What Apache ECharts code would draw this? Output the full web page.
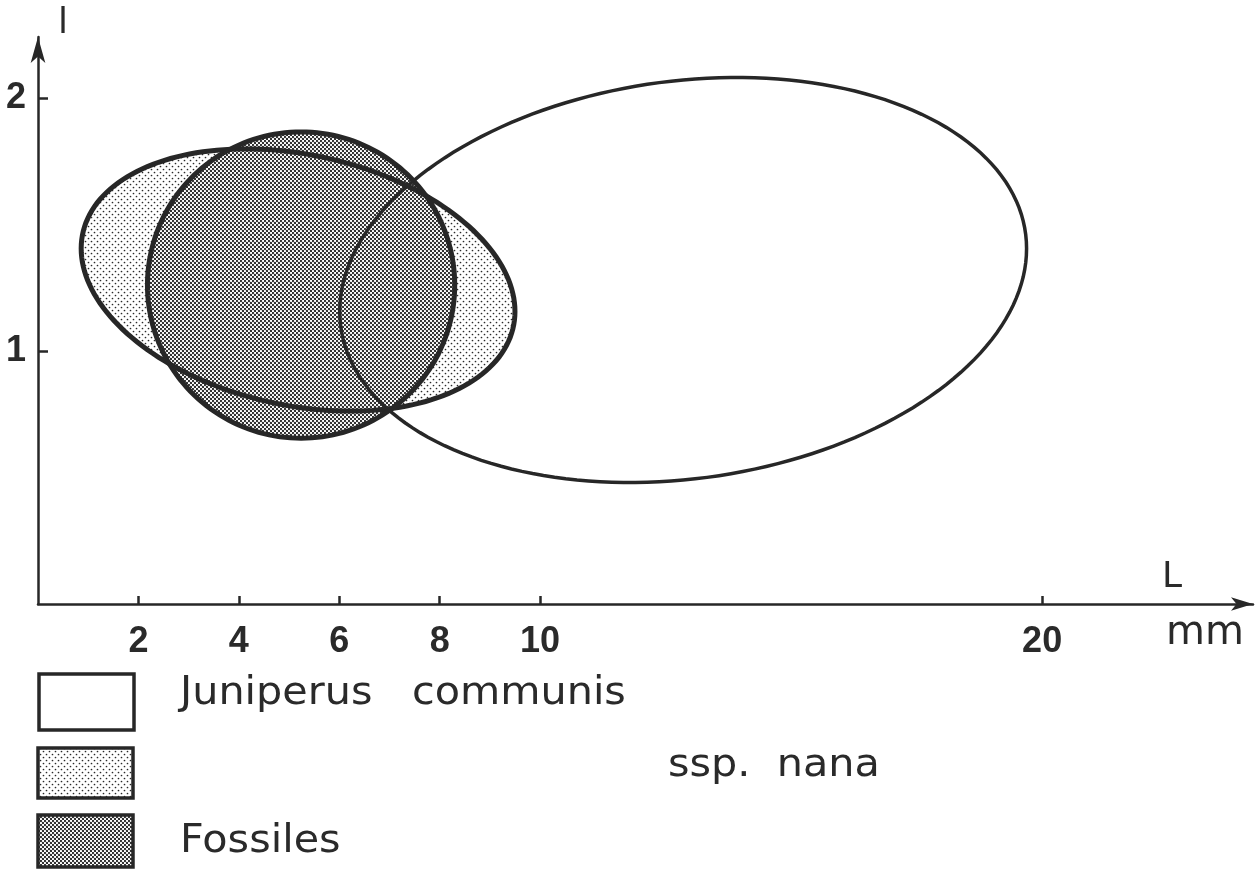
<!DOCTYPE html>
<html>
<head>
<meta charset="utf-8">
<script src="https://cdn.jsdelivr.net/npm/echarts@6/dist/echarts.min.js"></script>
<style>
  html, body { margin: 0; padding: 0; background: #fff; }
  #main { width: 1259px; height: 870px; }
</style>
</head>
<body>
<div id="main"></div>
<script>
// groups and ellipse params (L in mm, l in mm)
const groups = ['Juniperus communis', 'ssp. nana', 'Fossiles'];
const centerL = [12.85, 5.18, 5.24];
const centerW = [1.28, 1.28, 1.26];
const halfL = [6.84, 4.32, 3.06];
const halfW = [0.80, 0.518, 0.605];
const tilt = [0.155, -0.24, 0.0];

const xTicks = [2, 4, 6, 8, 10, 20];
const yTicks = [1, 2];

const ink = '#272727';
const font = '"DejaVu Sans", sans-serif';
const numFont = '"Liberation Sans", Arial, sans-serif';

// stipple textures
function stipple(size, dots, r, color) {
  const c = document.createElement('canvas');
  c.width = size; c.height = size;
  const ctx = c.getContext('2d');
  ctx.fillStyle = '#fff';
  ctx.fillRect(0, 0, size, size);
  ctx.fillStyle = color;
  dots.forEach(d => {
    ctx.beginPath();
    ctx.arc(d[0], d[1], r, 0, Math.PI * 2);
    ctx.fill();
  });
  return c;
}
const lightDots = stipple(6, [[1.5, 1.5], [4.5, 4.5]], 0.85, '#2a2a2a');
const darkDots = stipple(4, [[1, 1], [3, 3]], 1.15, '#2a2a2a');

const fills = [
  '#fff',
  { image: lightDots, repeat: 'repeat' },
  { image: darkDots, repeat: 'repeat' }
];
const widths = [3.5, 5, 5];

const ellipseData = groups.map((g, i) => ({
  name: g,
  value: [centerL[i], centerW[i], halfL[i], halfW[i], tilt[i]]
}));

function ellipsePoints(api) {
  const cx = api.value(0), cy = api.value(1);
  const rx = api.value(2), ry = api.value(3);
  const phi = Math.asin(api.value(4));
  const pts = [];
  for (let i = 0; i < 180; i++) {
    const t = i / 180 * Math.PI * 2;
    pts.push(api.coord([cx + rx * Math.cos(t), cy + ry * Math.sin(t + phi)]));
  }
  return pts;
}

const chart = echarts.init(document.getElementById('main'));

const legendText = (text, x, y) => ({
  type: 'text', x: x, y: y, scaleX: 1.06,
  style: { text: text, fontFamily: font, fontSize: 39, fill: '#2a2a2a' }
});

const option = {
  backgroundColor: '#fff',
  animation: false,
  grid: {
    left: 38,
    right: 6,
    top: 37,
    bottom: 266,
    containLabel: false,
    outerBoundsMode: 'none'
  },
  xAxis: {
    type: 'value',
    min: 0,
    max: 24.2,
    splitLine: { show: false },
    axisLine: {
      lineStyle: { color: ink, width: 2.5 },
      symbol: ['none', 'arrow'],
      symbolSize: [10, 22]
    },
    axisTick: {
      customValues: xTicks,
      inside: true,
      length: 8,
      lineStyle: { color: ink, width: 2.5 }
    },
    axisLabel: {
      customValues: xTicks,
      margin: 20,
      color: '#2a2a2a',
      fontFamily: numFont,
      fontWeight: 'bold',
      fontSize: 36
    }
  },
  yAxis: {
    type: 'value',
    min: 0,
    max: 2.24,
    splitLine: { show: false },
    axisLine: {
      lineStyle: { color: ink, width: 2.5 },
      symbol: ['none', 'arrow'],
      symbolSize: [11, 26]
    },
    axisTick: {
      customValues: yTicks,
      inside: true,
      length: 10,
      lineStyle: { color: ink, width: 2.5 }
    },
    axisLabel: {
      customValues: yTicks,
      margin: 12,
      color: '#2a2a2a',
      fontFamily: numFont,
      fontWeight: 'bold',
      fontSize: 36
    }
  },
  series: [
    {
      // fills
      type: 'custom',
      data: ellipseData,
      renderItem: function (params, api) {
        return {
          type: 'polygon',
          shape: { points: ellipsePoints(api) },
          style: { fill: fills[params.dataIndex], stroke: null }
        };
      },
      z: 2
    },
    {
      // outlines on top of all fills
      type: 'custom',
      data: ellipseData,
      renderItem: function (params, api) {
        return {
          type: 'polygon',
          shape: { points: ellipsePoints(api) },
          style: { fill: 'none', stroke: ink, lineWidth: widths[params.dataIndex] }
        };
      },
      z: 3
    }
  ],
  graphic: [
    { type: 'text', left: 58, top: 6, style: { text: 'l', fontFamily: font, fontSize: 36, fill: '#2a2a2a' } },
    { type: 'text', left: 1162, top: 560, style: { text: 'L', fontFamily: font, fontSize: 36, fill: '#2a2a2a' } },
    { type: 'text', left: 1166, top: 614, style: { text: 'mm', fontFamily: font, fontSize: 40, fill: '#2a2a2a' } },

    { type: 'rect', shape: { x: 39, y: 674, width: 95, height: 56 }, style: { fill: fills[0], stroke: ink, lineWidth: 3.5 } },
    { type: 'rect', shape: { x: 38, y: 748, width: 95, height: 50 }, style: { fill: fills[1], stroke: ink, lineWidth: 3.5 } },
    { type: 'rect', shape: { x: 38, y: 815, width: 95, height: 52 }, style: { fill: fills[2], stroke: ink, lineWidth: 3.5 } },

    legendText('Juniperus   communis', 180, 674),
    legendText('ssp.  nana', 668, 746),
    legendText('Fossiles', 180, 822)
  ]
};

chart.setOption(option);
</script>
</body>
</html>
